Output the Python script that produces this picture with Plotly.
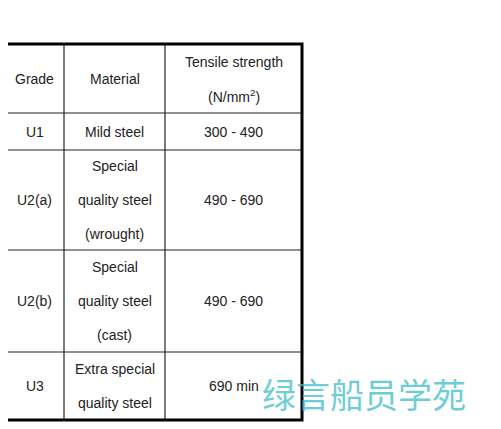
import plotly.graph_objects as go

title = "Table 5.6.2 Grades of steel for use as chain cable"
headers = [["Grade"], ["Material"], ["Tensile strength", "(N/mm<sup>2</sup>)"]]
grades = ["U1", "U2(a)", "U2(b)", "U3"]
materials = [["Mild steel"], ["Special", "quality steel", "(wrought)"],
             ["Special", "quality steel", "(cast)"], ["Extra special", "quality steel"]]
strengths = ["300 - 490", "490 - 690", "490 - 690", "690 min"]

col_x = [5, 64, 165, 302]
row_y = [44, 113, 150, 250, 352, 420]
line_gap = 34
off = 8  # page margin compensation

fig = go.Figure()
shapes = []
for x in col_x[1:-1]:
    shapes.append(dict(type="line", x0=x, x1=x, y0=row_y[0], y1=row_y[-1], line=dict(color="#222", width=1.2)))
for y in row_y[1:-1]:
    shapes.append(dict(type="line", x0=col_x[0], x1=col_x[-1], y0=y, y1=y, line=dict(color="#222", width=1.2)))
shapes.append(dict(type="rect", x0=col_x[0], x1=col_x[-1], y0=row_y[0], y1=row_y[-1], line=dict(color="#000", width=3)))

ann = []
def cell(lines, c, r):
    cx = (col_x[c] + col_x[c + 1]) / 2
    cy = (row_y[r] + row_y[r + 1]) / 2
    n = len(lines)
    for i, t in enumerate(lines):
        y = cy + (i - (n - 1) / 2) * line_gap
        ann.append(dict(x=cx, y=y, text=t, showarrow=False, xanchor="center", yanchor="middle",
                        font=dict(family="Liberation Sans, Arial", size=14, color="#222")))

for c, h in enumerate(headers):
    cell(h, c, 0)
for r in range(len(grades)):
    cell([grades[r]], 0, r + 1)
    cell([strengths[r]], 2, r + 1)
    cell(materials[r], 1, r + 1)

ann.append(dict(x=5, y=13, text="<b>" + title + "</b>", showarrow=False, xanchor="left", yanchor="middle",
                font=dict(family="Liberation Sans, Arial", size=20, color="#222")))
ann.append(dict(x=364, y=393, text="绿言船员学苑", showarrow=False, xanchor="center", yanchor="middle",
                font=dict(family="Noto Sans CJK SC", size=34, color="rgba(60,190,200,0.75)")))

fig.update_layout(width=501, height=429, margin=dict(l=0, r=0, t=0, b=0),
                  paper_bgcolor="white", plot_bgcolor="white", shapes=shapes, annotations=ann,
                  xaxis=dict(range=[off, 501 + off], visible=False, fixedrange=True),
                  yaxis=dict(range=[429 + off, off], visible=False, fixedrange=True), showlegend=False)
fig.write_html("out.html")
